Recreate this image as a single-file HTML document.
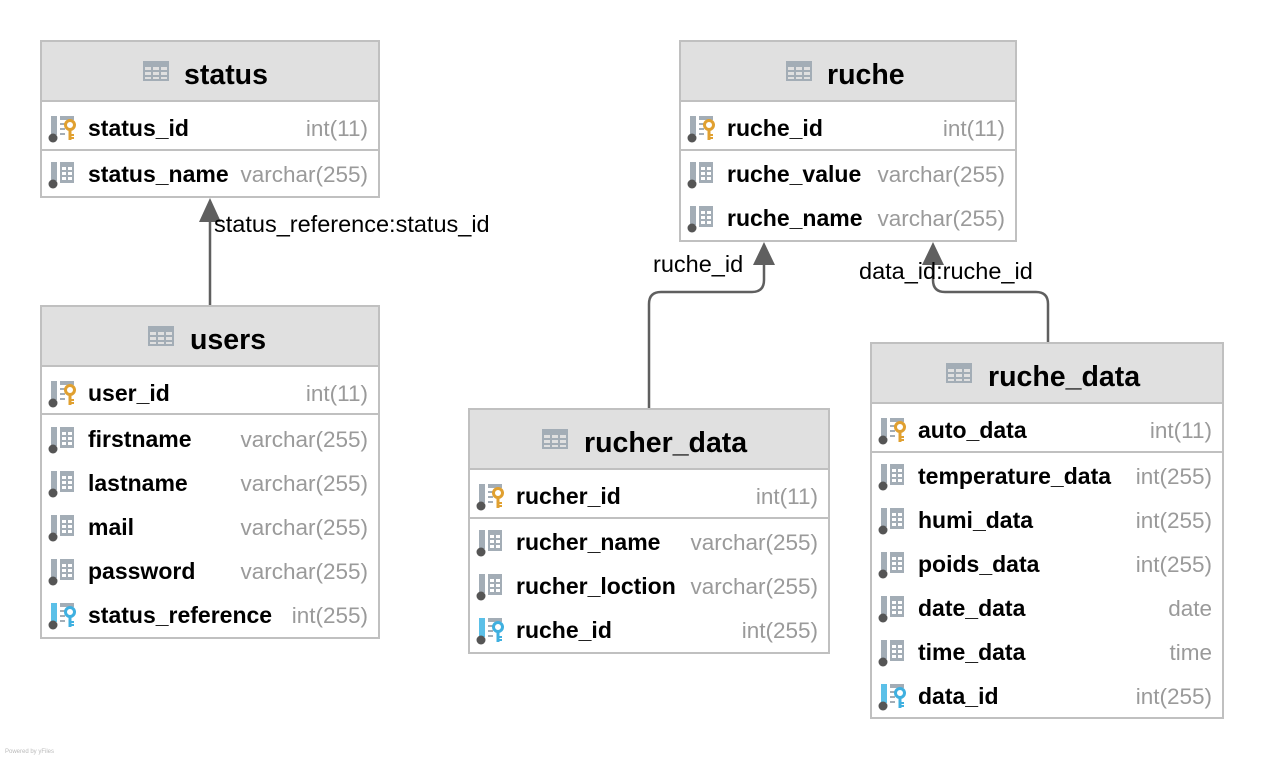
<!DOCTYPE html>
<html><head><meta charset="utf-8"><style>
html,body{margin:0;padding:0;background:#fff;}
svg{display:block;font-family:"Liberation Sans",sans-serif;}
.t{font-weight:bold;font-size:28.5px;fill:#000;}
.f{font-weight:bold;font-size:23px;fill:#000;}
.ty{font-size:22.5px;fill:#9a9a9a;text-anchor:end;}
.lb{font-size:23.5px;fill:#000;}
.box{fill:#fff;stroke:#c0c0c0;stroke-width:2;}
.hd{fill:#e0e0e0;}
.sep{stroke:#c0c0c0;stroke-width:2;}
.ln{fill:none;stroke:#5f5f5f;stroke-width:2.5;}
</style></head><body>
<svg width="1264" height="760" viewBox="0 0 1264 760" xmlns="http://www.w3.org/2000/svg">
<defs>
<g id="ti">
 <rect x="0" y="0" width="26" height="20" fill="#a3adb6"/>
 <g fill="#e0e0e0"><rect x="2" y="6" width="6" height="3"/><rect x="10" y="6" width="6" height="3"/><rect x="18" y="6" width="6" height="3"/><rect x="2" y="11" width="6" height="3"/><rect x="10" y="11" width="6" height="3"/><rect x="18" y="11" width="6" height="3"/><rect x="2" y="16" width="6" height="2"/><rect x="10" y="16" width="6" height="2"/><rect x="18" y="16" width="6" height="2"/></g>
</g>
<g id="col">
 <rect x="2" y="-12" width="6" height="19" fill="#a3adb6"/>
 <circle cx="4" cy="10" r="4.5" fill="#555"/>
 <rect x="11" y="-12" width="14" height="21" fill="#a3adb6"/>
 <g fill="#fff"><rect x="13" y="-7" width="4" height="3"/><rect x="19" y="-7" width="4" height="3"/><rect x="13" y="-2" width="4" height="3"/><rect x="19" y="-2" width="4" height="3"/><rect x="13" y="3" width="4" height="3"/><rect x="19" y="3" width="4" height="3"/></g>
</g>
<g id="pk">
 <rect x="2" y="-12" width="6" height="19" fill="#a3adb6"/>
 <circle cx="4" cy="10" r="4.5" fill="#555"/>
 <rect x="11" y="-12" width="14" height="4" fill="#a3adb6"/>
 <rect x="11" y="-5" width="5" height="2" fill="#a3adb6"/><rect x="11" y="0" width="5" height="2" fill="#a3adb6"/><rect x="11" y="5" width="5" height="2" fill="#a3adb6"/>
 <circle cx="21" cy="-3" r="4.5" fill="none" stroke="#e0a030" stroke-width="3"/>
 <rect x="19.5" y="1" width="3" height="11" fill="#e0a030"/><rect x="22" y="6" width="3" height="2" fill="#e0a030"/><rect x="22" y="9" width="3" height="2" fill="#e0a030"/>
</g>
<g id="fk">
 <rect x="2" y="-12" width="6" height="19" fill="#5bc0e8"/>
 <circle cx="4" cy="10" r="4.5" fill="#555"/>
 <rect x="11" y="-12" width="14" height="4" fill="#a3adb6"/>
 <rect x="11" y="-5" width="5" height="2" fill="#a3adb6"/><rect x="11" y="0" width="5" height="2" fill="#a3adb6"/><rect x="11" y="5" width="5" height="2" fill="#a3adb6"/>
 <circle cx="21" cy="-3" r="4.5" fill="none" stroke="#3fb0e0" stroke-width="3"/>
 <rect x="19.5" y="1" width="3" height="11" fill="#3fb0e0"/><rect x="22" y="6" width="3" height="2" fill="#3fb0e0"/><rect x="22" y="9" width="3" height="2" fill="#3fb0e0"/>
</g>
</defs>

<path class="ln" d="M210 306 V220"/>
<polygon points="199,222 221,222 210,198" fill="#5f5f5f"/>
<text class="lb" x="214" y="232">status_reference:status_id</text>

<path class="ln" d="M649 409 V304 Q649 292 661 292 H752 Q764 292 764 280 V262"/>
<polygon points="753,265 775,265 764,242" fill="#5f5f5f"/>
<text class="lb" x="653" y="272">ruche_id</text>

<path class="ln" d="M1048 343 V304 Q1048 292 1036 292 H945 Q933 292 933 280 V262"/>
<polygon points="922,265 944,265 933,242" fill="#5f5f5f"/>
<text class="lb" x="859" y="279">data_id:ruche_id</text>

<!-- status -->
<rect class="box" x="41" y="41" width="338" height="156"/>
<rect class="hd" x="42" y="42" width="336" height="59"/>
<line class="sep" x1="41" y1="101" x2="379" y2="101"/>
<use href="#ti" x="143" y="61"/>
<text class="t" x="184" y="84">status</text>
<use href="#pk" x="49" y="128"/><text class="f" x="88" y="136">status_id</text><text class="ty" x="368" y="136">int(11)</text>
<line class="sep" x1="41" y1="150" x2="379" y2="150"/>
<use href="#col" x="49" y="174"/><text class="f" x="88" y="182">status_name</text><text class="ty" x="368" y="182">varchar(255)</text>

<!-- users -->
<rect class="box" x="41" y="306" width="338" height="332"/>
<rect class="hd" x="42" y="307" width="336" height="59"/>
<line class="sep" x1="41" y1="366" x2="379" y2="366"/>
<use href="#ti" x="148" y="326"/>
<text class="t" x="190" y="349">users</text>
<use href="#pk" x="49" y="393"/><text class="f" x="88" y="401">user_id</text><text class="ty" x="368" y="401">int(11)</text>
<line class="sep" x1="41" y1="414" x2="379" y2="414"/>
<use href="#col" x="49" y="439"/><text class="f" x="88" y="447">firstname</text><text class="ty" x="368" y="447">varchar(255)</text>
<use href="#col" x="49" y="483"/><text class="f" x="88" y="491">lastname</text><text class="ty" x="368" y="491">varchar(255)</text>
<use href="#col" x="49" y="527"/><text class="f" x="88" y="535">mail</text><text class="ty" x="368" y="535">varchar(255)</text>
<use href="#col" x="49" y="571"/><text class="f" x="88" y="579">password</text><text class="ty" x="368" y="579">varchar(255)</text>
<use href="#fk" x="49" y="615"/><text class="f" x="88" y="623">status_reference</text><text class="ty" x="368" y="623">int(255)</text>

<!-- ruche -->
<rect class="box" x="680" y="41" width="336" height="200"/>
<rect class="hd" x="681" y="42" width="334" height="59"/>
<line class="sep" x1="680" y1="101" x2="1016" y2="101"/>
<use href="#ti" x="786" y="61"/>
<text class="t" x="827" y="84">ruche</text>
<use href="#pk" x="688" y="128"/><text class="f" x="727" y="136">ruche_id</text><text class="ty" x="1005" y="136">int(11)</text>
<line class="sep" x1="680" y1="150" x2="1016" y2="150"/>
<use href="#col" x="688" y="174"/><text class="f" x="727" y="182">ruche_value</text><text class="ty" x="1005" y="182">varchar(255)</text>
<use href="#col" x="688" y="218"/><text class="f" x="727" y="226">ruche_name</text><text class="ty" x="1005" y="226">varchar(255)</text>

<!-- rucher_data -->
<rect class="box" x="469" y="409" width="360" height="244"/>
<rect class="hd" x="470" y="410" width="358" height="59"/>
<line class="sep" x1="469" y1="469" x2="829" y2="469"/>
<use href="#ti" x="542" y="429"/>
<text class="t" x="584" y="452">rucher_data</text>
<use href="#pk" x="477" y="496"/><text class="f" x="516" y="504">rucher_id</text><text class="ty" x="818" y="504">int(11)</text>
<line class="sep" x1="469" y1="518" x2="829" y2="518"/>
<use href="#col" x="477" y="542"/><text class="f" x="516" y="550">rucher_name</text><text class="ty" x="818" y="550">varchar(255)</text>
<use href="#col" x="477" y="586"/><text class="f" x="516" y="594">rucher_loction</text><text class="ty" x="818" y="594">varchar(255)</text>
<use href="#fk" x="477" y="630"/><text class="f" x="516" y="638">ruche_id</text><text class="ty" x="818" y="638">int(255)</text>

<!-- ruche_data -->
<rect class="box" x="871" y="343" width="352" height="375"/>
<rect class="hd" x="872" y="344" width="350" height="59"/>
<line class="sep" x1="871" y1="403" x2="1223" y2="403"/>
<use href="#ti" x="946" y="363"/>
<text class="t" x="988" y="386">ruche_data</text>
<use href="#pk" x="879" y="430"/><text class="f" x="918" y="438">auto_data</text><text class="ty" x="1212" y="438">int(11)</text>
<line class="sep" x1="871" y1="452" x2="1223" y2="452"/>
<use href="#col" x="879" y="476"/><text class="f" x="918" y="484">temperature_data</text><text class="ty" x="1212" y="484">int(255)</text>
<use href="#col" x="879" y="520"/><text class="f" x="918" y="528">humi_data</text><text class="ty" x="1212" y="528">int(255)</text>
<use href="#col" x="879" y="564"/><text class="f" x="918" y="572">poids_data</text><text class="ty" x="1212" y="572">int(255)</text>
<use href="#col" x="879" y="608"/><text class="f" x="918" y="616">date_data</text><text class="ty" x="1212" y="616">date</text>
<use href="#col" x="879" y="652"/><text class="f" x="918" y="660">time_data</text><text class="ty" x="1212" y="660">time</text>
<use href="#fk" x="879" y="696"/><text class="f" x="918" y="704">data_id</text><text class="ty" x="1212" y="704">int(255)</text>

<text x="5" y="753" style="font-size:6px;fill:#bbb">Powered by yFiles</text>
</svg>
</body></html>
